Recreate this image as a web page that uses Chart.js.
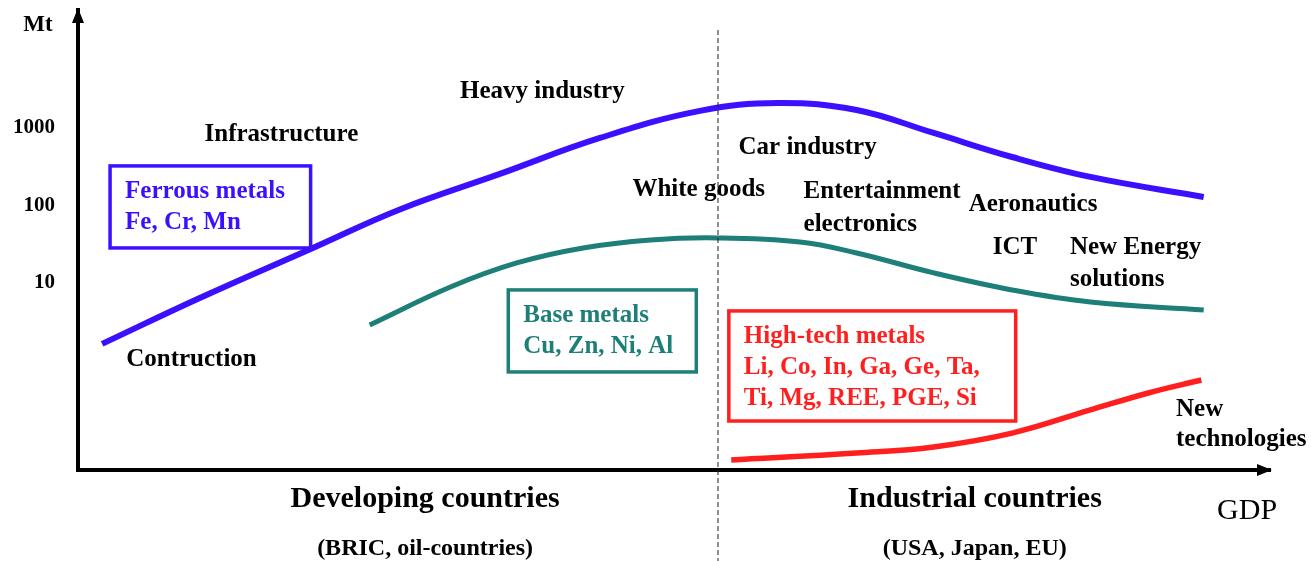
<!DOCTYPE html>
<html>
<head>
<meta charset="utf-8">
<script src="https://cdn.jsdelivr.net/npm/chart.js@4"></script>
<style>
  html, body { margin: 0; padding: 0; background: #fff; }
  canvas { display: block; }
</style>
</head>
<body>
<canvas id="metals" width="1311" height="561"></canvas>
<script>
// GDP index (0..~99) against consumption in Mt (log scale)
const ferrousGdp = [2.0, 10.1, 19.3, 26.7, 35.0, 43.3, 51.6, 58.1, 64.6, 71.0, 77.5, 84.0, 93.4];
const ferrousMt  = [1.66, 6.44, 27.4, 88, 251, 726, 1615, 2042, 1660, 841, 414, 230, 127];
const baseGdp    = [24.2, 30.9, 36.4, 41.9, 47.5, 53.0, 59.9, 64.6, 71.0, 77.5, 84.0, 93.4];
const baseMt     = [2.90, 8.9, 18.1, 28.2, 35.7, 37.9, 33.6, 24.3, 13.5, 8.16, 5.72, 4.52];
const hitechGdp  = [54.2, 64.6, 71.0, 77.5, 84.0, 88.8, 93.2];
const hitechMt   = [0.0538, 0.0662, 0.0791, 0.119, 0.236, 0.389, 0.571];
const yTicks = [10, 100, 1000];
const divideGdp = 53.1;

const regions = ['Developing countries', 'Industrial countries'];
const regionNotes = ['(BRIC, oil-countries)', '(USA, Japan, EU)'];
const regionGdp = [28.8, 74.4];

const BLUE = '#3c10ff';
const TEAL = '#1d7f78';
const RED = '#ff1f1f';
const FONT = '"Liberation Serif", "Times New Roman", serif';

// sector labels, placed in data units (left edge, vertical centre)
const sectors = [
    { text: 'Infrastructure', x: 10.5, y: 795 },
    { text: 'Heavy industry', x: 31.7, y: 2850 },
    { text: 'Car industry', x: 54.8, y: 541 },
    { text: 'White goods', x: 46.0, y: 156 },
    { text: 'Entertainment', x: 60.2, y: 148 },
    { text: 'electronics', x: 60.2, y: 57 },
    { text: 'Aeronautics', x: 73.9, y: 103 },
    { text: 'ICT', x: 75.9, y: 28.2 },
    { text: 'New Energy', x: 82.3, y: 28.2 },
    { text: 'solutions', x: 82.3, y: 11 },
    { text: 'Contruction', x: 4.0, y: 1.03 },
    { text: 'New', x: 91.1, y: 0.236 },
    { text: 'technologies', x: 91.1, y: 0.097 }
];

const groups = [
    { lines: ['Ferrous metals', 'Fe, Cr, Mn'], color: BLUE, x0: 2.66, x1: 19.3, top: 318, bottom: 28.2 },
    { lines: ['Base metals', 'Cu, Zn, Ni, Al'], color: TEAL, x0: 35.7, x1: 51.3, top: 8.16, bottom: 0.724 },
    { lines: ['High-tech metals', 'Li, Co, In, Ga, Ge, Ta,', 'Ti, Mg, REE, PGE, Si'], color: RED, x0: 54.0, x1: 77.8, top: 4.39, bottom: 0.170 }
];

function pts(xs, ys) {
    return xs.map((v, i) => ({ x: v, y: ys[i] }));
}

const overlay = {
    id: 'overlay',
    afterDraw(chart) {
        const { ctx, chartArea: a, scales: { x, y } } = chart;
        ctx.save();

        // arrow heads on both axes
        ctx.fillStyle = '#000';
        ctx.beginPath();
        ctx.moveTo(a.left, a.top - 2);
        ctx.lineTo(a.left - 6, a.top + 13);
        ctx.lineTo(a.left + 6, a.top + 13);
        ctx.closePath();
        ctx.fill();
        ctx.beginPath();
        ctx.moveTo(a.right + 2, a.bottom);
        ctx.lineTo(a.right - 13, a.bottom - 6);
        ctx.lineTo(a.right - 13, a.bottom + 6);
        ctx.closePath();
        ctx.fill();

        // divider between developing and industrial
        const dx = x.getPixelForValue(divideGdp);
        ctx.strokeStyle = '#222';
        ctx.lineWidth = 1;
        ctx.setLineDash([5, 3]);
        ctx.beginPath();
        ctx.moveTo(dx, a.top + 20);
        ctx.lineTo(dx, chart.height);
        ctx.stroke();
        ctx.setLineDash([]);

        ctx.textBaseline = 'middle';
        ctx.textAlign = 'left';
        ctx.fillStyle = '#000';
        ctx.font = 'bold 25px ' + FONT;
        sectors.forEach(s => {
            ctx.fillText(s.text, x.getPixelForValue(s.x), y.getPixelForValue(s.y));
        });

        groups.forEach(g => {
            const l = x.getPixelForValue(g.x0), r = x.getPixelForValue(g.x1);
            const t = y.getPixelForValue(g.top), b = y.getPixelForValue(g.bottom);
            ctx.strokeStyle = g.color;
            ctx.lineWidth = 3.5;
            ctx.strokeRect(l, t, r - l, b - t);
            ctx.fillStyle = g.color;
            g.lines.forEach((txt, i) => ctx.fillText(txt, l + 15, t + 26 + i * 31));
        });

        // axis captions
        ctx.fillStyle = '#000';
        ctx.textAlign = 'center';
        ctx.font = 'bold 23px ' + FONT;
        ctx.fillText('Mt', a.left - 40, a.top + 15);
        regions.forEach((r, i) => {
            const cx = x.getPixelForValue(regionGdp[i]);
            ctx.font = 'bold 30px ' + FONT;
            ctx.fillText(r, cx, a.bottom + 29);
            ctx.font = 'bold 24px ' + FONT;
            ctx.fillText(regionNotes[i], cx, a.bottom + 79);
        });
        ctx.font = '30px ' + FONT;
        ctx.fillText('GDP', x.getPixelForValue(97.0), a.bottom + 41);

        ctx.restore();
    }
};

new Chart(document.getElementById('metals'), {
    type: 'line',
    data: {
        datasets: [
            { label: 'Ferrous metals', data: pts(ferrousGdp, ferrousMt), borderColor: BLUE, borderWidth: 6 },
            { label: 'Base metals', data: pts(baseGdp, baseMt), borderColor: TEAL, borderWidth: 5 },
            { label: 'High-tech metals', data: pts(hitechGdp, hitechMt), borderColor: RED, borderWidth: 5.5 }
        ]
    },
    options: {
        responsive: false,
        animation: false,
        elements: {
            point: { radius: 0 },
            line: { tension: 0.4, borderCapStyle: 'butt', fill: false }
        },
        layout: { padding: { top: 10, right: 41, bottom: 0, left: 0 } },
        plugins: { legend: { display: false }, tooltip: { enabled: false } },
        scales: {
            x: {
                type: 'linear',
                min: 0,
                max: 98.9,
                grid: { display: false },
                border: { display: true, color: '#000', width: 4 },
                ticks: { display: false },
                afterFit: s => { s.height = 91; s.paddingLeft = 0; s.paddingRight = 0; }
            },
            y: {
                type: 'logarithmic',
                min: 0.04,
                max: 31800,
                grid: { display: false },
                border: { display: true, color: '#000', width: 4 },
                afterBuildTicks: s => { s.ticks = yTicks.map(v => ({ value: v })); },
                afterFit: s => { s.width = 78; s.paddingTop = 0; s.paddingBottom = 0; },
                ticks: {
                    padding: 15,
                    color: '#000',
                    font: { family: FONT, size: 21, weight: 'bold' },
                    callback: v => String(v)
                }
            }
        }
    },
    plugins: [overlay]
});
</script>
</body>
</html>
